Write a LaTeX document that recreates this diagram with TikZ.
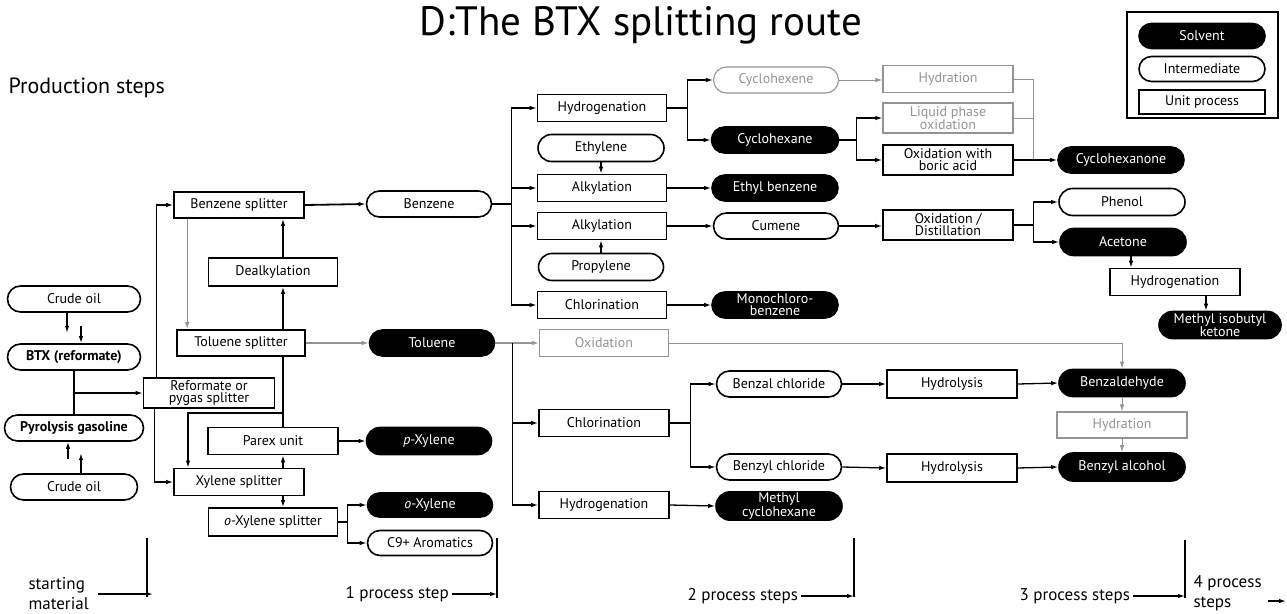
\documentclass[tikz,border=0pt]{standalone}
\usepackage{fontspec}
\setmainfont{PT Sans}
\usetikzlibrary{shapes.misc, arrows.meta, positioning}

\definecolor{faded}{gray}{0.58}

\tikzset{
	base/.style={line width=1.6pt, align=center, inner sep=1pt, font=\fontsize{14}{12}\selectfont},
	strong/.style={font=\fontsize{14}{12}\selectfont\bfseries},
	unitproc/.style={base, draw, rectangle, minimum width=129pt, minimum height=27pt},
	interm/.style={base, draw, rounded rectangle, minimum width=127pt, minimum height=26pt},
	solvent/.style={interm, fill=black, text=white},
	faint/.style={draw=faded, text=faded, line width=1.1pt},
	link/.style={line width=1.3pt},
	flow/.style={link, -{Latex[length=7pt,width=4.5pt]}},
	steptext/.style={font=\fontsize{17}{20}\selectfont, align=left},
}

\begin{document}
\begin{tikzpicture}[x=1pt, y=-1pt]
	\useasboundingbox (0,0) rectangle (1287,613);

	% Title and heading
	\node[font=\fontsize{41}{43}\selectfont] (title) at (641,25) {D:The BTX splitting route};
	\node[font=\fontsize{22}{24}\selectfont, anchor=west] (heading) at (5,88) {Production steps};

	% Legend
	\draw[line width=1.6pt] (1127,12) rectangle (1278,118);
	\node[solvent, minimum width=128pt, minimum height=25pt] (lgsolv) at (1202,36) {Solvent};
	\node[interm, minimum width=128pt, minimum height=25pt] (lginter) at (1202,69) {Intermediate};
	\node[unitproc, minimum width=126pt, minimum height=24pt] (lgunit) at (1202,102) {Unit process};

	% Starting material
	\node[interm, minimum width=135pt] (crudeA) at (74,299) {Crude oil};
	\node[interm, strong, minimum width=135pt] (btx) at (74,357) {BTX (reformate)};
	\node[interm, strong, minimum width=129pt, inner xsep=-5pt] (pyro) at (74,428) {Pyrolysis gasoline};
	\node[interm, minimum width=129pt] (crudeB) at (74,487) {Crude oil};

	% Splitters
	\node[unitproc, minimum width=131pt, minimum height=30pt] (reform) at (209,393) {Reformate or\\pygas splitter};
	\node[unitproc, minimum width=130pt, minimum height=26pt] (bsplit) at (239,205) {Benzene splitter};
	\node[unitproc, minimum width=128pt, minimum height=26pt] (tsplit) at (241,343) {Toluene splitter};
	\node[unitproc, minimum height=28pt] (dealk) at (273,272) {Dealkylation};
	\node[unitproc, minimum width=130pt] (parex) at (273,441) {Parex unit};
	\node[unitproc, minimum width=130pt] (xsplit) at (239,482) {Xylene splitter};
	\node[unitproc, minimum height=28pt] (oxsplit) at (273,522) {\textit{o}-Xylene splitter};

	% First products
	\node[solvent, minimum height=27pt] (pxyl) at (429,441) {\textit{p}-Xylene};
	\node[solvent, minimum height=24pt] (oxyl) at (430,505) {\textit{o}-Xylene};
	\node[interm, minimum height=25pt] (arom) at (430,543) {C9+ Aromatics};
	\node[interm] (benz) at (429,204) {Benzene};
	\node[solvent] (tol) at (432,343) {Toluene};

	% Benzene routes
	\node[unitproc] (hydA) at (602,108) {Hydrogenation};
	\node[interm, minimum width=128pt, minimum height=27pt] (ethyl) at (601,148) {Ethylene};
	\node[unitproc] (alkA) at (602,188) {Alkylation};
	\node[unitproc] (alkB) at (602,226) {Alkylation};
	\node[interm, minimum height=27pt] (propyl) at (601,267) {Propylene};
	\node[unitproc] (chlA) at (602,305) {Chlorination};
	\node[solvent, minimum width=128pt] (etbenz) at (775,188) {Ethyl benzene};
	\node[interm] (cumene) at (776,226) {Cumene};
	\node[solvent, minimum width=128pt] (mcb) at (775,305) {Monochloro-\\benzene};
	\node[interm, faint] (cyene) at (776,80) {Cyclohexene};
	\node[solvent, minimum width=129pt] (cyane) at (775,140) {Cyclohexane};
	\node[unitproc, faint, minimum width=130pt] (hydrat) at (948,79) {Hydration};
	\node[unitproc, faint, minimum width=130pt, minimum height=30pt] (lpo) at (948,118) {Liquid phase\\oxidation};
	\node[unitproc, minimum width=130pt, minimum height=30pt] (boric) at (948,160) {Oxidation with\\boric acid};
	\node[solvent, minimum width=128pt] (cyone) at (1121,160) {Cyclohexanone};
	\node[unitproc, minimum width=130pt, minimum height=30pt] (oxdist) at (948,225) {Oxidation /\\Distillation};
	\node[interm, minimum width=128pt, minimum height=27pt] (phenol) at (1122,202) {Phenol};
	\node[solvent, minimum width=128pt, minimum height=27pt] (acet) at (1123,242) {Acetone};
	\node[unitproc, minimum width=130pt] (hydB) at (1175,282) {Hydrogenation};
	\node[solvent, minimum width=124pt, minimum height=27pt] (mibk) at (1220,325) {Methyl isobutyl\\ketone};

	% Toluene routes
	\node[unitproc, faint] (oxid) at (604,343) {Oxidation};
	\node[unitproc, minimum width=130pt] (chlB) at (604,423) {Chlorination};
	\node[unitproc, minimum width=130pt] (hydC) at (604,505) {Hydrogenation};
	\node[solvent, minimum width=128pt] (mch) at (779,506) {Methyl\\cyclohexane};
	\node[interm] (bzal) at (779,384) {Benzal chloride};
	\node[interm] (bzyl) at (779,467) {Benzyl chloride};
	\node[unitproc, minimum width=130pt, minimum height=28pt] (hlA) at (952,384) {Hydrolysis};
	\node[unitproc, minimum width=130pt, minimum height=28pt] (hlB) at (952,468) {Hydrolysis};
	\node[solvent, minimum width=128pt, minimum height=27pt] (bzald) at (1122,383) {Benzaldehyde};
	\node[unitproc, faint, minimum width=130pt, minimum height=26pt] (hydratB) at (1122,425) {Hydration};
	\node[solvent, minimum width=128pt, minimum height=28pt] (bzalc) at (1122,467) {Benzyl alcohol};

	% Crude oil into BTX and pyrolysis gasoline
	\draw[flow] ([xshift=-7pt]crudeA.south) -- ([xshift=-7pt,yshift=-20pt]crudeA.south);
	\draw[flow] ([xshift=7pt,yshift=17pt]btx.north) -- ([xshift=7pt]btx.north);
	\draw[flow] ([xshift=7pt]crudeB.north) -- ([xshift=7pt,yshift=20pt]crudeB.north);
	\draw[flow] ([xshift=-6pt,yshift=-17pt]pyro.south) -- ([xshift=-6pt]pyro.south);
	\draw[link] (btx.south) -- (pyro.north);
	\draw[flow] (btx.south |- reform.west) -- (reform.west);

	% Splitter network
	\draw[flow] ([xshift=14pt]reform.north west) |- (bsplit.west);
	\draw[flow] ([xshift=12pt]reform.south west) |- (xsplit.west);
	\coordinate (bt) at ([xshift=14pt]bsplit.south west);
	\draw[flow, faded] (bt) -- (bt |- tsplit.north);
	\coordinate (dk) at (283,300);
	\draw[flow] (tsplit.north -| dk) -- (dealk.south -| dk);
	\draw[flow] (dealk.north -| dk) -- (bsplit.south -| dk);
	\draw[link] (tsplit.south -| dk) -- (parex.north -| dk);
	\coordinate (tx) at (188,413);
	\draw[flow] (dk |- tx) -- (tx) -- (tx |- xsplit.north);
	\draw[flow] (xsplit.north -| dk) -- (parex.south -| dk);
	\draw[flow] (xsplit.south -| dk) -- (oxsplit.north -| dk);
	\draw[flow] (parex.east) -- (pxyl.west);
	\coordinate (ox) at ([xshift=9pt]oxsplit.east);
	\draw[link] (oxsplit.east) -- (ox);
	\draw[flow] (ox) |- (oxyl.west);
	\draw[flow] (ox) |- (arom.west);
	\draw[flow, line width=1.8pt] (bsplit.east) -- (benz.west);
	\draw[flow, faded] (tsplit.east) -- (tol.west);

	% Benzene
	\coordinate (bz) at ([xshift=19pt]benz.east);
	\draw[link] (benz.east) -- (bz);
	\draw[flow] (bz) |- (hydA.west);
	\draw[flow] (bz) |- (alkA.west);
	\draw[flow] (bz) |- (alkB.west);
	\draw[flow] (bz) |- (chlA.west);
	\draw[flow] (ethyl.south) -- (ethyl.south |- alkA.north);
	\draw[flow] (propyl.north) -- (propyl.north |- alkB.south);
	\draw[flow] (alkA.east) -- (etbenz.west);
	\draw[flow] (alkB.east) -- (cumene.west);
	\draw[flow] (chlA.east) -- (mcb.west);
	\coordinate (hy) at ([xshift=20pt]hydA.east);
	\draw[link] (hydA.east) -- (hy);
	\draw[flow] (hy) |- (cyene.west);
	\draw[flow] (hy) |- (cyane.west);
	\draw[flow, faded, line width=1pt] (cyene.east) -- (cyene.east -| hydrat.west);
	\coordinate (cy) at ([xshift=17pt]cyane.east);
	\draw[link] (cyane.east) -- (cy);
	\draw[flow] (cy) |- (lpo.west);
	\draw[flow] (cy) |- (boric.west);
	\coordinate (cj) at ([xshift=20pt]hydrat.east);
	\draw[link, faded, line width=1pt] (hydrat.east) -| (cj |- boric.east);
	\draw[link, faded, line width=1pt] (lpo.east) -- (lpo.east -| cj);
	\draw[flow] (boric.east) -- (cyone.west);
	\draw[flow] (cumene.east) -- (cumene.east -| oxdist.west);
	\coordinate (cu) at ([xshift=20pt]oxdist.east);
	\draw[link] (oxdist.east) -- (cu);
	\draw[flow] (cu) |- (phenol.west);
	\draw[flow] (cu) |- (acet.west);
	\coordinate (ac) at (1131,250);
	\draw[flow] (acet.south -| ac) -- (hydB.north -| ac);
	\coordinate (mi) at (1206,300);
	\draw[flow] (hydB.south -| mi) -- (mibk.north -| mi);

	% Toluene
	\coordinate (tl) at ([xshift=17pt]tol.east);
	\draw[link, faded] (tol.east) -- (tl);
	\draw[flow, faded] (tl) -- (oxid.west);
	\draw[flow] (tl) |- (chlB.west);
	\draw[flow] (tl) |- (hydC.west);
	\draw[flow, faded, line width=1pt] (oxid.east) -| (bzald.north);
	\coordinate (cl) at ([xshift=21pt]chlB.east);
	\draw[link] (chlB.east) -- (cl);
	\draw[flow] (cl) |- (bzal.west);
	\draw[flow] (cl) |- (bzyl.west);
	\draw[flow] (bzal.east) -- (hlA.west);
	\draw[flow] (hlA.east) -- (bzald.west);
	\draw[flow] (bzyl.east) -- (hlB.west);
	\draw[flow] (hlB.east) -- (bzalc.west);
	\draw[flow] (hydC.east) -- (mch.west);
	\draw[flow, faded, line width=1pt] (bzald.south) -- (hydratB.north);
	\draw[flow, faded, line width=1pt] (hydratB.south) -- (bzalc.north);

	% Process steps
	\coordinate (sA) at (147,538);
	\coordinate (sB) at (497,538);
	\coordinate (sC) at (854,538);
	\coordinate (sD) at (1185,540);
	\draw[link] (sA) -- ++(0,59);
	\draw[link] (sB) -- ++(0,60);
	\draw[link] (sC) -- ++(0,59);
	\draw[link] (sD) -- ++(0,58);
	\node[steptext, anchor=west] (stepA) at (25,594) {starting\\material};
	\node[steptext, anchor=west] (stepB) at (342,594) {1 process step};
	\node[steptext, anchor=west] (stepC) at (684,596) {2 process steps};
	\node[steptext, anchor=west] (stepD) at (1016,596) {3 process steps};
	\node[steptext, anchor=west] (stepE) at (1190,593) {4 process\\steps};
	\draw[flow] ([xshift=6pt]stepA.east) -- ([xshift=6pt]stepA.east -| sA);
	\draw[flow] (stepB.east) -- (stepB.east -| sB);
	\draw[flow] (stepC.east) -- (stepC.east -| sC);
	\draw[flow] (stepD.east) -- (stepD.east -| sD);
	\coordinate (sE) at (1268,601);
	\draw[flow] (sE) -- ++(18,0);
\end{tikzpicture}
\end{document}
